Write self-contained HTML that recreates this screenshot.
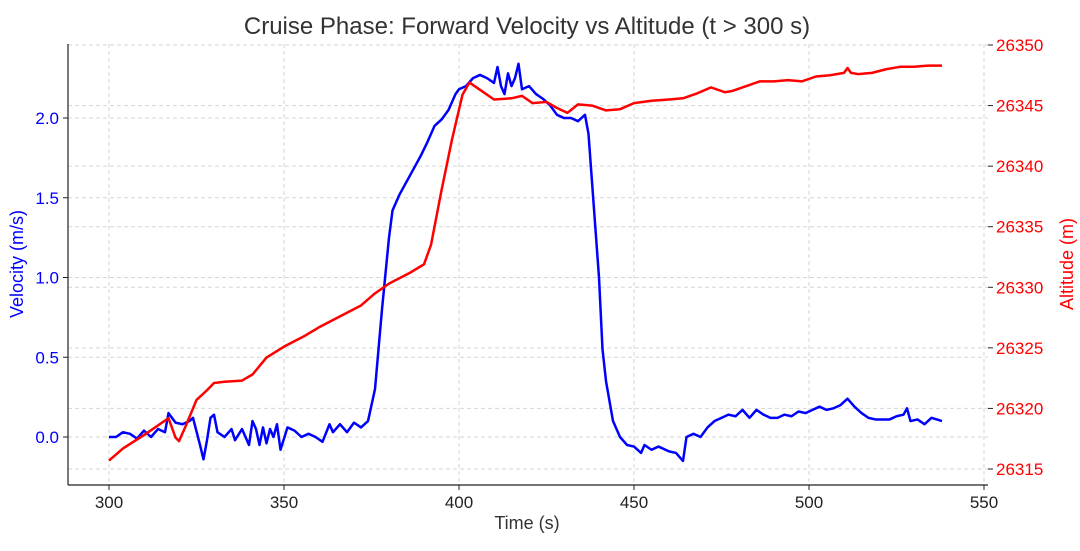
<!DOCTYPE html>
<html><head><meta charset="utf-8"><style>
body{margin:0;background:#fff;}
svg text{font-family:"Liberation Sans","DejaVu Sans",sans-serif;}
</style></head><body>
<svg id="chart" width="1080" height="546" xmlns="http://www.w3.org/2000/svg">
<g id="grid"></g>
<g id="series"></g>
<line x1="68" y1="44" x2="68" y2="485" stroke="#222" stroke-width="1.2"/>
<line x1="68" y1="485" x2="988" y2="485" stroke="#222" stroke-width="1.2"/>
<g id="axes"></g>
<text x="527" y="34" text-anchor="middle" font-size="24" fill="#333">Cruise Phase: Forward Velocity vs Altitude (t &gt; 300 s)</text>
<text x="527" y="529" text-anchor="middle" font-size="18" fill="#333">Time (s)</text>
<text transform="translate(23,264) rotate(-90)" text-anchor="middle" font-size="18" fill="#0000ff">Velocity (m/s)</text>
<text transform="translate(1073,264) rotate(-90)" text-anchor="middle" font-size="18" fill="#ff0000">Altitude (m)</text>
</svg>
<script>
const velT=[300,302,304,306,308,310,312,314,316,317,319,321,323,324,326,327,328,329,330,331,333,335,336,338,340,341,342,343,344,345,346,347,348,349,351,353,355,357,359,361,363,364,366,368,370,372,374,376,378,380,381,383,385,387,389,391,393,395,397,399,400,402,404,406,408,410,411,412,413,414,415,416,417,418,420,422,424,426,428,430,432,434,436,437,438,440,441,442,444,446,448,450,452,453,455,457,460,462,464,465,467,469,471,473,475,477,479,481,483,485,487,489,491,493,495,497,499,501,503,505,507,509,511,513,515,517,519,521,523,525,527,528,529,531,533,535,538];
const velV=[0.0,0.0,0.03,0.02,-0.01,0.04,0.0,0.05,0.03,0.15,0.09,0.08,0.10,0.12,-0.05,-0.14,-0.02,0.12,0.14,0.03,0.0,0.05,-0.02,0.05,-0.05,0.10,0.05,-0.05,0.06,-0.04,0.05,0.0,0.08,-0.08,0.06,0.04,0.0,0.02,0.0,-0.03,0.08,0.03,0.08,0.03,0.09,0.06,0.10,0.3,0.8,1.25,1.42,1.52,1.6,1.68,1.76,1.85,1.95,1.99,2.05,2.15,2.18,2.2,2.25,2.27,2.25,2.22,2.32,2.2,2.15,2.28,2.2,2.25,2.34,2.18,2.2,2.15,2.12,2.08,2.02,2.0,2.0,1.98,2.02,1.9,1.6,1.0,0.55,0.35,0.1,0.0,-0.05,-0.06,-0.1,-0.05,-0.08,-0.06,-0.09,-0.1,-0.15,0.0,0.02,0.0,0.06,0.1,0.12,0.14,0.13,0.17,0.12,0.17,0.14,0.12,0.12,0.14,0.13,0.16,0.15,0.17,0.19,0.17,0.18,0.2,0.24,0.19,0.15,0.12,0.11,0.11,0.11,0.13,0.14,0.18,0.1,0.11,0.08,0.12,0.10];
const altT=[300,304,310,315,317,319,320,322,325,328,330,333,338,341,345,350,356,360,366,372,376,380,386,390,392,395,398,401,403,406,410,415,418,421,425,428,431,434,438,442,446,450,455,460,464,468,472,476,478,482,486,490,494,498,502,506,510,511,512,514,518,522,526,530,534,538];
const altV=[26315.7,26316.7,26317.8,26318.8,26319.2,26317.6,26317.3,26318.6,26320.7,26321.5,26322.1,26322.2,26322.3,26322.8,26324.2,26325.1,26326.0,26326.7,26327.6,26328.5,26329.5,26330.3,26331.2,26331.9,26333.5,26338.0,26342.2,26345.9,26346.9,26346.3,26345.5,26345.6,26345.8,26345.2,26345.3,26344.8,26344.4,26345.1,26345.0,26344.6,26344.7,26345.2,26345.4,26345.5,26345.6,26346.0,26346.5,26346.1,26346.2,26346.6,26347.0,26347.0,26347.1,26347.0,26347.4,26347.5,26347.7,26348.1,26347.7,26347.6,26347.7,26348.0,26348.2,26348.2,26348.3,26348.3];
const xTicks=[300,350,400,450,500,550];
const vTicks=[0.0,0.5,1.0,1.5,2.0];
const aTicks=[26315,26320,26325,26330,26335,26340,26345,26350];
const L=68,R=988,T=44,B=485;
const xS=t=>109+(t-300)*3.5;
const vS=v=>437-v*159.5;
const aS=a=>45+(26350-a)*424/35;
const NS="http://www.w3.org/2000/svg";
function mk(tag,attrs,parent){const e=document.createElementNS(NS,tag);for(const k in attrs)e.setAttribute(k,attrs[k]);parent.appendChild(e);return e;}
const grid=document.getElementById('grid'),axes=document.getElementById('axes'),ser=document.getElementById('series');
xTicks.forEach(t=>{const x=xS(t);
 const g=mk('line',{x1:x,x2:x,y1:T,y2:B,stroke:'#d6d6d6','stroke-dasharray':'4,3','stroke-width':1},grid);
 
 mk('line',{x1:x,x2:x,y1:B,y2:B+5,stroke:'#222'},axes);
 const tx=mk('text',{x:x,y:B+23,'text-anchor':'middle','font-size':17,fill:'#222'},axes);tx.textContent=t;
 });
vTicks.forEach(v=>{const y=vS(v);
 const g=mk('line',{x1:L,x2:R,y1:y,y2:y,stroke:'#d6d6d6','stroke-dasharray':'4,3','stroke-width':1},grid);
 
 mk('line',{x1:L-5,x2:L,y1:y,y2:y,stroke:'#222'},axes);
 const tx=mk('text',{x:L-9,y:y+6,'text-anchor':'end','font-size':17,fill:'#0000ff'},axes);tx.textContent=v.toFixed(1);
 });
aTicks.forEach(a=>{const y=aS(a);
 const g=mk('line',{x1:L,x2:R,y1:y,y2:y,stroke:'#d6d6d6','stroke-dasharray':'4,3','stroke-width':1},grid);
 
 mk('line',{x1:R,x2:R+5,y1:y,y2:y,stroke:'#222'},axes);
 const tx=mk('text',{x:R+8,y:y+6,'text-anchor':'start','font-size':17,fill:'#ff0000'},axes);tx.textContent=a;
 });
const vp=mk('polyline',{points:velT.map((t,i)=>xS(t)+','+vS(velV[i])).join(' '),fill:'none',stroke:'#0000ff','stroke-width':2.5,'stroke-linejoin':'round'},ser);

const ap=mk('polyline',{points:altT.map((t,i)=>xS(t)+','+aS(altV[i])).join(' '),fill:'none',stroke:'#ff0000','stroke-width':2.5,'stroke-linejoin':'round'},ser);

</script>
</body></html>
